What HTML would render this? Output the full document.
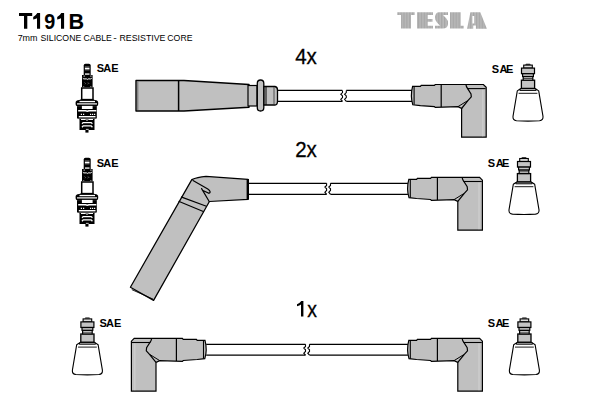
<!DOCTYPE html>
<html><head><meta charset="utf-8">
<style>
html,body{margin:0;padding:0;background:#fff;width:600px;height:400px;overflow:hidden}
svg{display:block}
text{font-family:"Liberation Sans",sans-serif}
</style></head><body>
<svg width="600" height="400" viewBox="0 0 600 400">
<defs>
  <!-- spark plug, origin: center x, top y -->
  <g id="plug">
    <path d="M-3.3 11.5 L-3.3 1.6 Q-3.3 -0.2 -1.5 -0.2 L1.9 -0.2 Q3.7 -0.2 3.7 1.6 L3.7 11.5 Z" fill="#000"/>
    <rect x="-2.1" y="2.6" width="4.6" height="1" fill="#aaa"/>
    <rect x="-2.1" y="4" width="4.6" height="1" fill="#fff"/>
    <rect x="-2.1" y="5.4" width="4.6" height="0.8" fill="#ccc"/>
    <rect x="-2" y="9.2" width="4.5" height="1.8" fill="#bbb"/>
    <rect x="-5" y="11" width="10.6" height="12.2" fill="#000"/>
    <rect x="-3.4" y="11.6" width="1.1" height="1" fill="#fff"/>
    <rect x="3.4" y="11.6" width="1.1" height="1" fill="#fff"/>
    <path d="M-4.2 14.2 L-3.2 14.9 H-0.5 L0.3 15.5 L1.1 14.9 H3.8 L4.8 14.2" stroke="#fff" stroke-width="1" fill="none"/>
    <path d="M-2.6 18.3 l1.5 1.5 M0.8 18.3 l1.5 1.5 M-2.2 20.2 l1.2 -1 M0.4 20.2 l1.6 -1" stroke="#555" stroke-width="0.8"/>
    <rect x="-4" y="22.6" width="1.3" height="0.8" fill="#fff"/>
    <rect x="3" y="22.6" width="1.5" height="0.8" fill="#fff"/>
    <rect x="-5.3" y="24" width="11.3" height="11.6" fill="#fff" stroke="#000" stroke-width="1.5"/>
    <path d="M-10 37 L-6 35.3 L6 35.3 L10 37 Z" fill="#000"/>
    <rect x="-11.4" y="36.2" width="22.6" height="6.2" rx="2.6" fill="#000"/>
    <rect x="-7.5" y="36.9" width="15.5" height="1.3" fill="#fff"/>
    <rect x="-10" y="39.3" width="20" height="1.2" fill="#fff"/>
    <rect x="-10" y="42.2" width="19.8" height="12.2" fill="#000"/>
    <rect x="-5.1" y="41.9" width="10.7" height="3.1" fill="#fff"/>
    <path d="M-8.8 46.7 H-1.5 L0.3 47.3 L2 46.7 H9.3" stroke="#fff" stroke-width="1.5" fill="none"/>
    <path d="M-6.2 50.3 h1.2 M-4 50.3 h1.2 M3 50.3 h1.2 M5 50.3 h1.2 M7 50.3 h1.2" stroke="#fff" stroke-width="1.3"/>
    <rect x="-8.2" y="52" width="16.7" height="1.4" fill="#fff"/>
    <path d="M-10 54.4 L-7.5 55.2 L-7.5 66 L7.5 66 L7.5 55.2 L9.8 54.4 Z" fill="#000"/>
    <path d="M-6 55.5 H-1.5 L0 56.2 L1.5 55.5 H6" stroke="#fff" stroke-width="1" fill="none"/>
    <path d="M-5 59.7 L-3.8 58.6 H4.2 L5.4 59.7 M-5 63.2 L-3.8 61.9 H4.2 L5.4 63.2" stroke="#fff" stroke-width="1.3" fill="none"/>
    <rect x="-1.1" y="64.9" width="2.8" height="0.8" fill="#fff"/>
    <rect x="-1.6" y="66" width="3.1" height="2.6" fill="#000"/>
  </g>
  <!-- SAE terminal, origin: center x, top y -->
  <g id="term">
    <path d="M-7.6 24.2 L-10.7 26.3 L-15 51.8 Q-15.4 55.6 -11.5 56.1 Q0 56.9 11.5 56.1 Q15.4 55.6 15 51.8 L10.7 26.3 L7.6 24.2 Z" fill="#fff" stroke="#000" stroke-width="1.1" stroke-linejoin="round"/>
    <path d="M-9.4 28.7 H9.4" stroke="#000" stroke-width="0.9"/>
    <path d="M-7.4 23.9 H7.4 L8.2 25.8 H-8.2 Z" fill="#c4c4c4" stroke="#000" stroke-width="1"/>
    <rect x="-6.6" y="15.6" width="13.2" height="8.2" fill="#c4c4c4" stroke="#000" stroke-width="1.3"/>
    <rect x="-4.8" y="12" width="9.6" height="3.5" fill="#fff" stroke="#000" stroke-width="1.2"/>
    <path d="M-4.8 13.8 H4.8" stroke="#000" stroke-width="0.8"/>
    <path d="M-2.6 0.2 Q-2.6 -0.8 -1.6 -0.8 L1.6 -0.8 Q2.6 -0.8 2.6 0.2 Z" fill="#000"/>
    <rect x="-4.3" y="0.5" width="8.6" height="3" fill="#ddd" stroke="#000" stroke-width="1.1"/>
    <rect x="-6.5" y="3.5" width="13" height="5.6" fill="#c4c4c4" stroke="#000" stroke-width="1.2"/>
    <rect x="-5.4" y="9.1" width="10.8" height="2.8" fill="#c4c4c4" stroke="#000" stroke-width="1.2"/>
  </g>
  <!-- right elbow boot: origin = left end x, cable center y -->
  <g id="rboot">
    <path d="M2 -9.5 L9.8 -9.5 L10.6 -10.5 L23.8 -10.5 L24.6 -11.4 L72.8 -11.4 L75.6 -8.6 L75.6 41.3 L51 41.3 L51 12.6 L47.3 10.8 L24.6 11.5 L23.8 10.7 L9.8 9.7 L2.2 8.9 Q-0.5 0 2 -9.5 Z" fill="#c0c0c0" stroke="#000" stroke-width="1.2" stroke-linejoin="miter"/>
    <path d="M72.2 -6.6 V40.4" stroke="#d2d2d2" stroke-width="1"/>
    <path d="M3.5 -9.5 V8.9" stroke="#000" stroke-width="1.1"/>
    <path d="M30.6 -11.4 V11.2" stroke="#000" stroke-width="1.2"/>
    <path d="M55.3 -11.4 L56 -9 L60.4 -2 L60.7 1 L57.5 4.5 L51 12.6" stroke="#000" stroke-width="1.2" fill="none"/>
    <path d="M47.3 10.8 L57 4.8" stroke="#000" stroke-width="1" fill="none"/>
    <path d="M56.6 -7.3 H75" stroke="#000" stroke-width="1.1"/>
  </g>
</defs>

<!-- Title -->
<g fill="#000">
<path d="M19 13 H32.2 V15.9 H27.3 V28.7 H24 V15.9 H19 Z"/>
<path d="M40.1 13 V28.7 H37 V18.3 Q35.3 19.4 33.2 19.4 V16.9 Q35.6 16 37.3 13 Z"/>
<path d="M64.1 13 V28.7 H61 V18.3 Q59.3 19.4 57.2 19.4 V16.9 Q59.6 16 61.3 13 Z"/>
<text transform="translate(44.3 28.7) scale(0.865 1)" font-size="22.9" font-weight="bold">9</text>
<text transform="translate(68.4 28.7) scale(0.945 1)" font-size="22.9" font-weight="bold">B</text>
</g>
<g font-size="9.4" fill="#000">
<text x="17.63" y="40.7" textLength="19.85" lengthAdjust="spacingAndGlyphs">7mm</text>
<text x="40.55" y="40.7" textLength="40.73" lengthAdjust="spacingAndGlyphs">SILICONE</text>
<text x="83.45" y="40.7" textLength="28.39" lengthAdjust="spacingAndGlyphs">CABLE</text>
<text x="113.31" y="40.7" textLength="3.53" lengthAdjust="spacingAndGlyphs">-</text>
<text x="119.52" y="40.7" textLength="45.99" lengthAdjust="spacingAndGlyphs">RESISTIVE</text>
<text x="167.3" y="40.7" textLength="25.2" lengthAdjust="spacingAndGlyphs">CORE</text>
</g>
<defs><pattern id="stripes" patternUnits="userSpaceOnUse" x="0.3" y="0" width="2.9" height="4"><rect width="2.9" height="4" fill="#a6a6a6"/><rect x="1.6" width="0.8" height="4" fill="#cdcdcd"/></pattern></defs>
<g fill="url(#stripes)" fill-rule="evenodd">
<path d="M397.3 12.3 H414.7 V14.9 H411 V28.5 H401 V14.9 H397.3 Z"/>
<path d="M417 12.3 H433 V15 H427.7 V19 H432.5 V21.7 H427.7 V25.8 H433 V28.5 H417 Z"/>
<path d="M439 12.3 H448 V15 H443 L446 18 Q448.5 20.5 448 24 Q447.5 28.5 443 28.5 H435 V25.8 H440 L437 22.5 Q434.8 20 435 17 Q435.5 12.3 439 12.3 Z"/>
<path d="M450 12.3 H460.7 V25.8 H463.7 V28.5 H450 Z"/>
<path d="M470.4 12.3 H480.3 L486.9 28.8 H475.9 V25.5 H473.2 V28.8 H467.1 Z M472.4 16.1 H474.2 V23.6 H472.4 Z"/>
</g>

<!-- count labels -->
<text transform="translate(295.2 63.800000000000004) scale(0.92 1)" font-size="22.3" fill="#000" stroke="#000" stroke-width="0.3">4x</text>
<text transform="translate(295.2 157.29999999999998) scale(0.92 1)" font-size="22.3" fill="#000" stroke="#000" stroke-width="0.3">2x</text>
<path d="M303.4 301 V316.6 H301 V304.5 Q299.6 305.7 297 306.2 V304.3 Q299.6 303.3 301.3 301 Z" fill="#000"/>
<text transform="translate(307.2 317.0) scale(0.87 1)" font-size="22.3" fill="#000" stroke="#000" stroke-width="0.3">x</text>

<!-- SAE labels -->
<g font-size="11" font-weight="bold" fill="#000">
<text y="71.7"><tspan x="96.67">S</tspan><tspan x="103.22">A</tspan><tspan x="111.19">E</tspan></text>
<text y="166.7"><tspan x="96.67">S</tspan><tspan x="103.22">A</tspan><tspan x="111.19">E</tspan></text>
<text y="326.7"><tspan x="99.57">S</tspan><tspan x="106.12">A</tspan><tspan x="114.09">E</tspan></text>
<text y="72.6"><tspan x="491.67">S</tspan><tspan x="499.53">A</tspan><tspan x="505.89">E</tspan></text>
<text y="166.7"><tspan x="487.82">S</tspan><tspan x="495.68">A</tspan><tspan x="502.04">E</tspan></text>
<text y="326.7"><tspan x="487.67">S</tspan><tspan x="495.53">A</tspan><tspan x="501.89">E</tspan></text>
</g>

<!-- ROW 1 -->
<use href="#plug" x="87" y="64"/>
<path d="M136 80.5 L184 80.5 L249 84.5 L249 107.2 L184 111 L136 111 Z" fill="#c0c0c0" stroke="#000" stroke-width="1.4" stroke-linejoin="round"/>
<path d="M178.6 80.5 V111" stroke="#000" stroke-width="1.5"/>
<path d="M137.8 81.5 V110" stroke="#555" stroke-width="0.8"/>
<rect x="248" y="85.5" width="9" height="20.5" fill="#c0c0c0" stroke="#000" stroke-width="1.2"/>
<rect x="257.3" y="80" width="6.5" height="31" rx="3.2" fill="#c0c0c0" stroke="#000" stroke-width="1.3"/>
<path d="M264 86.5 L275 86.5 Q277.5 87 277.5 90 L277.5 101 Q277.5 105 275 105 L264 105 Z" fill="#c0c0c0" stroke="#000" stroke-width="1.3"/>
<path d="M266 86.5 V105" stroke="#000" stroke-width="1"/>
<path d="M274 87 V104.5" stroke="#333" stroke-width="0.8"/>
<!-- cable row1 -->
<path d="M277.5 90.4 H342.3 M277.5 101.3 H342.3 M346.3 90.4 H412 M346.3 101.3 H412" stroke="#000" stroke-width="1.2"/>
<path d="M342.5 90.4 L342.5 92.6 L340.8 94.2 L342.5 95.9 L342.5 97.6 L340.8 99.3 L342.5 101.3" stroke="#000" stroke-width="1.1" fill="none"/>
<path d="M346.3 90.4 L346.3 92.6 L344.6 94.2 L346.3 95.9 L346.3 97.6 L344.6 99.3 L346.3 101.3" stroke="#000" stroke-width="1.1" fill="none"/>
<use href="#rboot" x="410.6" y="95.9"/>
<use href="#term" x="528" y="64.6"/>

<!-- ROW 2 -->
<use href="#plug" x="87" y="158"/>
<path d="M191.8 179.6 Q197 177.3 206 176.4 L248 179.3 L248 199.3 L209.4 201.5 L153.6 300.4 L130.4 287.2 Z" fill="#c0c0c0" stroke="#000" stroke-width="1.25" stroke-linejoin="round"/>
<path d="M247.8 179 V199.6" stroke="#000" stroke-width="2.4"/>
<path d="M193 180.6 L207.8 189 Q211.8 192 209 193.3 L203.5 190.8 M201.6 188.6 L209.2 201.5" stroke="#000" stroke-width="1.2" fill="none" stroke-linecap="round"/>
<path d="M181 196.9 L206.4 206.3 M178.6 201.2 L203.9 211.8" stroke="#000" stroke-width="1.2"/>
<path d="M131.8 289.6 L153.2 299.2" stroke="#000" stroke-width="0.9"/>
<!-- cable row2 -->
<path d="M248.5 183.3 H326.6 M248.5 194.3 H326.6 M330.5 183.3 H407.9 M330.5 194.3 H407.9" stroke="#000" stroke-width="1.2"/>
<path d="M326.6 183.3 L326.6 185.5 L324.9 187.1 L326.6 188.8 L326.6 190.5 L324.9 192.2 L326.6 194.3" stroke="#000" stroke-width="1.1" fill="none"/>
<path d="M330.5 183.3 L330.5 185.5 L328.8 187.1 L330.5 188.8 L330.5 190.5 L328.8 192.2 L330.5 194.3" stroke="#000" stroke-width="1.1" fill="none"/>
<use href="#rboot" x="406.8" y="188.8"/>
<use href="#term" x="524" y="158"/>

<!-- ROW 3 -->
<use href="#term" x="87.4" y="318.4"/>
<use href="#rboot" transform="translate(207 349.8) scale(-1 1)"/>
<path d="M206.2 344.3 H305.5 M206.2 355.2 H305.5 M309.5 344.3 H407.9 M309.5 355.2 H407.9" stroke="#000" stroke-width="1.2"/>
<path d="M305.5 344.3 L305.5 346.5 L303.8 348.1 L305.5 349.8 L305.5 351.5 L303.8 353.2 L305.5 355.2" stroke="#000" stroke-width="1.1" fill="none"/>
<path d="M309.5 344.3 L309.5 346.5 L307.8 348.1 L309.5 349.8 L309.5 351.5 L307.8 353.2 L309.5 355.2" stroke="#000" stroke-width="1.1" fill="none"/>
<use href="#rboot" x="406.8" y="349.8"/>
<use href="#term" x="524.4" y="318.4"/>
</svg>
</body></html>
